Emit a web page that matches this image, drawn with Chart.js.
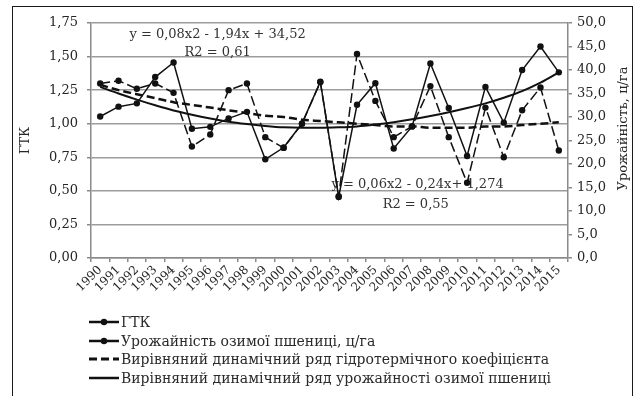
<!DOCTYPE html>
<html>
<head>
<meta charset="utf-8">
<script src="https://cdn.jsdelivr.net/npm/chart.js@4.4.1/dist/chart.umd.min.js"></script>
<style>
html, body { margin: 0; padding: 0; background: #fff; }
#wrap { position: absolute; left: 0; top: 0; width: 641px; height: 396px; }
#frame { position: absolute; left: 12px; top: 6px; width: 621px; height: 400px; border: 1.5px solid #1a1a1a; box-sizing: border-box; pointer-events: none; }
#legend { position: absolute; left: 88px; top: 313px; font: 14px 'DejaVu Serif', serif; color: #2a2a2a; }
#legend div { height: 18.5px; display: flex; align-items: center; white-space: nowrap; }
#legend canvas { margin-right: 1px; }
</style>
</head>
<body>
<div id="wrap"><canvas id="chart"></canvas></div>
<div id="frame"></div>
<div id="legend"></div>
<script>
var years = ['1990', '1991', '1992', '1993', '1994', '1995', '1996', '1997', '1998', '1999', '2000', '2001', '2002',
             '2003', '2004', '2005', '2006', '2007', '2008', '2009', '2010', '2011', '2012', '2013', '2014', '2015']

// hydrothermal coefficient (left axis)
var gtk = [1.30, 1.32, 1.26, 1.30, 1.23, 0.83, 0.92, 1.25, 1.30, 0.90, 0.82, 1.00, 1.31,
           0.46, 1.52, 1.17, 0.90, 0.98, 1.28, 0.90, 0.56, 1.12, 0.75, 1.10, 1.27, 0.80]

// winter wheat yield, c/ha (right axis)
var yieldVals = [30.1, 32.2, 32.9, 38.5, 41.6, 27.5, 27.9, 29.7, 31.1, 21.0, 23.5, 28.6, 37.5,
                 13.0, 32.6, 37.2, 23.3, 28.0, 41.4, 31.9, 21.7, 36.4, 28.8, 40.0, 45.0, 39.5]

// trend lines
var gtkTrend = [1.29, 1.25, 1.22, 1.19, 1.16, 1.14, 1.12, 1.10, 1.08, 1.06, 1.05, 1.03, 1.02,
                1.01, 1.00, 0.99, 0.98, 0.98, 0.97, 0.97, 0.97, 0.98, 0.98, 0.99, 1.00, 1.01]
var yieldTrend = [36.4, 35.0, 33.7, 32.5, 31.4, 30.5, 29.7, 29.0, 28.5, 28.1, 27.8, 27.7, 27.7,
                  27.8, 28.0, 28.4, 28.9, 29.5, 30.2, 31.0, 31.9, 32.9, 34.1, 35.5, 37.3, 39.5]

var gtkTicks = [0, 0.25, 0.5, 0.75, 1, 1.25, 1.5, 1.75]
var yieldTicks = [0, 5, 10, 15, 20, 25, 30, 35, 40, 45, 50]

var labels = ['ГТК', 'Урожайність озимої пшениці, ц/га',
              'Вирівняний динамічний ряд гідротермічного коефіцієнта',
              'Вирівняний динамічний ряд урожайності озимої пшениці']
var leftTitle = 'ГТК'
var rightTitle = 'Урожайність, ц/га'
var eq1 = ['y = 0,08x2 - 1,94x + 34,52', 'R2 = 0,61']
var eq2 = ['y = 0,06x2 - 0,24x+ 1,274', 'R2 = 0,55']

var ink = '#262626'
var axisGray = '#8a8a8a'
var fontFam = "'DejaVu Serif', serif"

Chart.defaults.font.family = fontFam
Chart.defaults.color = ink

// trendline equations and right axis title
const textPlugin = {
    id: 'textPlugin',
    beforeDatasetsDraw(chart) {
        const ctx = chart.ctx
        const x = chart.scales.x, y = chart.scales.y
        ctx.save()
        ctx.font = '13px ' + fontFam
        ctx.fillStyle = '#333'
        ctx.textAlign = 'center'
        ctx.textBaseline = 'middle'
        ctx.fillText(eq1[0], x.getPixelForValue(6.4), y.getPixelForValue(1.66))
        ctx.fillText(eq1[1], x.getPixelForValue(6.4), y.getPixelForValue(1.53))
        ctx.fillText(eq2[0], x.getPixelForValue(17.3), y.getPixelForValue(0.545))
        ctx.fillText(eq2[1], x.getPixelForValue(17.2), y.getPixelForValue(0.40))
        ctx.restore()
    },
    afterDraw(chart) {
        const ctx = chart.ctx
        const a = chart.chartArea
        ctx.save()
        ctx.font = '13px ' + fontFam
        ctx.fillStyle = ink
        ctx.textAlign = 'center'
        ctx.textBaseline = 'middle'
        ctx.translate(chart.scales.y1.right - 17, (a.top + a.bottom) / 2 - 12)
        ctx.rotate(-Math.PI / 2)
        ctx.fillText(rightTitle, 0, 0)
        ctx.restore()
    }
}

function comma(v, d) {
    return Number(v).toFixed(d).replace('.', ',')
}

const config = {
    type: 'line',
    data: {
        labels: years,
        datasets: [
            {
                label: labels[0],
                data: gtk,
                yAxisID: 'y',
                borderColor: '#111',
                backgroundColor: '#111',
                borderWidth: 1.5,
                borderDash: [10, 4],
                pointRadius: 3.2,
                pointBackgroundColor: '#111',
                pointBorderWidth: 0,
                tension: 0
            },
            {
                label: labels[1],
                data: yieldVals,
                yAxisID: 'y1',
                borderColor: '#111',
                backgroundColor: '#111',
                borderWidth: 1.5,
                pointRadius: 3.2,
                pointBackgroundColor: '#111',
                pointBorderWidth: 0,
                tension: 0
            },
            {
                label: labels[2],
                data: gtkTrend,
                yAxisID: 'y',
                borderColor: '#111',
                borderWidth: 2.5,
                borderDash: [8, 4],
                pointRadius: 0,
                cubicInterpolationMode: 'monotone'
            },
            {
                label: labels[3],
                data: yieldTrend,
                yAxisID: 'y1',
                borderColor: '#111',
                borderWidth: 2,
                pointRadius: 0,
                cubicInterpolationMode: 'monotone'
            }
        ]
    },
    options: {
        responsive: true,
        maintainAspectRatio: false,
        animation: false,
        layout: { padding: { top: 23, left: 0, right: 0, bottom: 0 } },
        plugins: {
            legend: { display: false },
            tooltip: { enabled: false }
        },
        scales: {
            x: {
                offset: true,
                grid: { offset: true, drawOnChartArea: false, tickLength: 4, color: axisGray, lineWidth: 1.5 },
                border: { color: axisGray, width: 1.5 },
                ticks: { autoSkip: false, minRotation: 45, maxRotation: 45, padding: 1, font: { size: 12 }, color: ink },
                afterFit: function (s) { s.height = 138 }
            },
            y: {
                position: 'left',
                min: 0,
                max: 1.75,
                afterBuildTicks: function (s) { s.ticks = gtkTicks.map(v => ({ value: v })) },
                ticks: { padding: 9, font: { size: 13 }, color: ink, callback: v => comma(v, 2) },
                grid: { color: '#9c9c9c', lineWidth: 1.5, tickLength: 4, tickColor: axisGray },
                border: { color: axisGray, width: 1.5 },
                title: { display: true, text: leftTitle, font: { size: 13 }, color: ink, padding: { top: 18, bottom: 0 } },
                afterFit: function (s) { s.width = 91 }
            },
            y1: {
                position: 'right',
                min: 0,
                max: 50,
                afterBuildTicks: function (s) { s.ticks = yieldTicks.map(v => ({ value: v })) },
                ticks: { padding: 5, font: { size: 13 }, color: ink, callback: v => comma(v, 1) },
                grid: { drawOnChartArea: false, tickLength: 4, color: axisGray, lineWidth: 1.5 },
                border: { color: axisGray, width: 1.5 },
                afterFit: function (s) { s.width = 73 }
            }
        }
    },
    plugins: [textPlugin]
}

var chart = new Chart(document.getElementById('chart'), config)

// legend below the plot, one row per series
function swatch(ds, withPoint) {
    var c = document.createElement('canvas')
    c.width = 32
    c.height = 12
    var g = c.getContext('2d')
    g.strokeStyle = '#111'
    g.lineWidth = withPoint ? 2.5 : ds.borderWidth + 0.5
    g.setLineDash(withPoint ? [] : (ds.borderDash || []))
    g.beginPath()
    g.moveTo(1, 6)
    g.lineTo(31, 6)
    g.stroke()
    if (withPoint) {
        g.fillStyle = '#111'
        g.beginPath()
        g.arc(16, 6, 3.2, 0, Math.PI * 2)
        g.fill()
    }
    return c
}

var legendBox = document.getElementById('legend')
chart.data.datasets.forEach(function (ds) {
    var row = document.createElement('div')
    row.appendChild(swatch(ds, ds.pointRadius > 0))
    var t = document.createElement('span')
    t.textContent = ds.label
    row.appendChild(t)
    legendBox.appendChild(row)
})
</script>
</body>
</html>
